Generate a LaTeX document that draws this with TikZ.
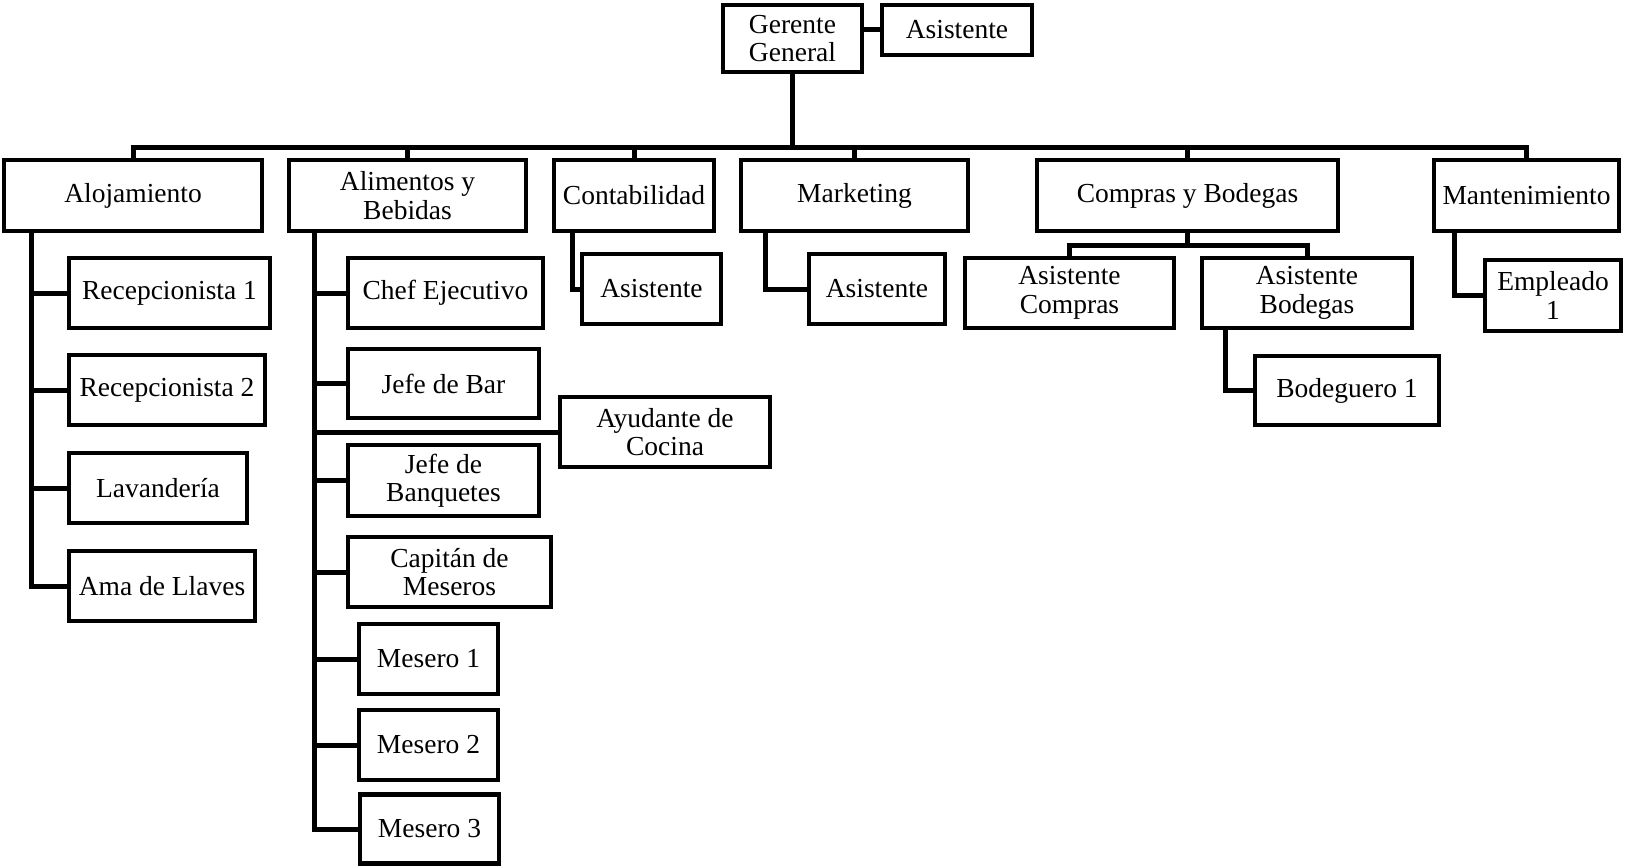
\documentclass[tikz,border=0pt]{standalone}
\usepackage{fontspec}
\setmainfont{Liberation Serif}
\begin{document}
\begin{tikzpicture}[x=1pt,y=-1pt,
  box/.style={draw, line width=4.5pt, inner sep=0pt, outer sep=0pt, align=center,
    font=\fontsize{27.5}{28.5}\selectfont},
  conn/.style={line width=5pt}]
\useasboundingbox (0,0) rectangle (1626,867);
% top
\node[box, minimum width=139pt, minimum height=67pt] (GG) at (792.5,38.5) {Gerente\\General};
\node[box, minimum width=150pt, minimum height=50pt] (AsisGG) at (957,30) {Asistente};
% level 1
\node[box, minimum width=258pt, minimum height=71pt] (Aloj) at (133,195.5) {Alojamiento};
\node[box, minimum width=237pt, minimum height=71pt] (Alim) at (407.5,195.5) {Alimentos y\\Bebidas};
\node[box, minimum width=160pt, minimum height=71pt] (Cont) at (634,195.5) {Contabilidad};
\node[box, minimum width=227pt, minimum height=71pt] (Mkt) at (854.5,195.5) {Marketing};
\node[box, minimum width=301pt, minimum height=71pt] (Comp) at (1187.5,195.5) {Compras y Bodegas};
\node[box, minimum width=185pt, minimum height=71pt] (Mant) at (1526.5,195.5) {Mantenimiento};
% alojamiento
\node[box, minimum width=201pt, minimum height=70pt] (Rec1) at (169.5,293) {Recepcionista 1};
\node[box, minimum width=196pt, minimum height=70pt] (Rec2) at (167,390) {Recepcionista 2};
\node[box, minimum width=178pt, minimum height=70pt] (Lav) at (158,488) {Lavandería};
\node[box, minimum width=186pt, minimum height=70pt] (Ama) at (162,586) {Ama de Llaves};
% alimentos
\node[box, minimum width=195pt, minimum height=70pt] (Chef) at (445.5,293) {Chef Ejecutivo};
\node[box, minimum width=191pt, minimum height=69pt] (Bar) at (443.5,383.5) {Jefe de Bar};
\node[box, minimum width=210pt, minimum height=70pt] (Ayud) at (665,432) {Ayudante de\\Cocina};
\node[box, minimum width=191pt, minimum height=71pt] (Banq) at (443.5,480.5) {Jefe de\\Banquetes};
\node[box, minimum width=203pt, minimum height=70pt] (Cap) at (449.5,572) {Capitán de\\Meseros};
\node[box, minimum width=139pt, minimum height=70pt] (Mes1) at (428.5,659) {Mesero 1};
\node[box, minimum width=139pt, minimum height=70pt] (Mes2) at (428.5,745) {Mesero 2};
\node[box, minimum width=139pt, minimum height=69pt] (Mes3) at (429.5,829) {Mesero 3};
% contabilidad / marketing
\node[box, minimum width=139pt, minimum height=70pt] (AsisC) at (651.5,289) {Asistente};
\node[box, minimum width=136pt, minimum height=70pt] (AsisM) at (877,289) {Asistente};
% compras
\node[box, minimum width=209pt, minimum height=70pt] (AsisCo) at (1069.5,293) {Asistente\\Compras};
\node[box, minimum width=210pt, minimum height=70pt] (AsisBo) at (1307,293) {Asistente\\Bodegas};
\node[box, minimum width=184pt, minimum height=69pt] (Bod1) at (1347,390.5) {Bodeguero 1};
% mantenimiento
\node[box, minimum width=136pt, minimum height=71pt] (Emp) at (1553,295.5) {Empleado\\1};

% connectors
\coordinate (bus) at (0,147);
\coordinate (cb) at (0,245);
\coordinate (sAloj) at (31,0);
\coordinate (sAlim) at (314,0);
\coordinate (sCont) at (572,0);
\coordinate (sMkt) at (765,0);
\coordinate (sBod) at (1225,0);
\coordinate (sMant) at (1454,0);

\draw[conn] (AsisGG.west) -- (AsisGG.west -| GG.east);
\draw[conn] (GG.south) -- (GG.south |- bus);
\draw[conn] (Aloj.north) |- (Mant.north |- bus) -- (Mant.north);
\foreach \n in {Alim,Cont,Mkt,Comp}
  \draw[conn] (\n.north) -- (\n.north |- bus);

\draw[conn] (sAloj |- Aloj.south) |- (Ama.west);
\foreach \n in {Rec1,Rec2,Lav}
  \draw[conn] (\n.west) -- (\n.west -| sAloj);

\draw[conn] (sAlim |- Alim.south) |- (Mes3.west);
\foreach \n in {Chef,Bar,Ayud,Banq,Cap,Mes1,Mes2}
  \draw[conn] (\n.west) -- (\n.west -| sAlim);

\draw[conn] (sCont |- Cont.south) |- (AsisC.west);
\draw[conn] (sMkt |- Mkt.south) |- (AsisM.west);

\draw[conn] (Comp.south) -- (Comp.south |- cb);
\draw[conn] (AsisCo.north) |- (cb -| AsisBo.north) -- (AsisBo.north);
\draw[conn] (sBod |- AsisBo.south) |- (Bod1.west);

\draw[conn] (sMant |- Mant.south) |- (Emp.west);
\end{tikzpicture}
\end{document}
